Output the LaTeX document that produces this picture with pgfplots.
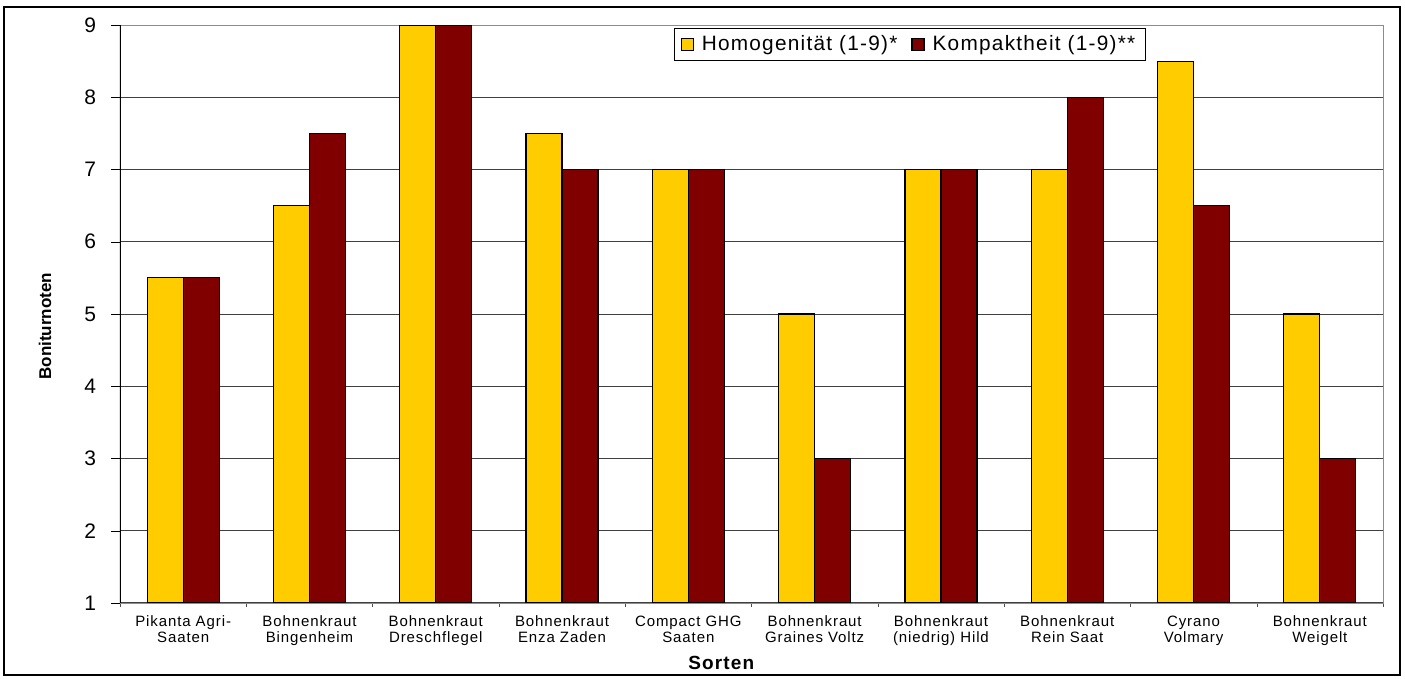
\documentclass[border=0pt]{standalone}
\usepackage{fontspec}
\setmainfont{Liberation Sans}
\newfontfamily\spfont[LetterSpace=6]{Liberation Sans}
\newfontfamily\lgfont[LetterSpace=6]{Liberation Sans}
\usepackage{pgfplots}
\pgfplotsset{compat=1.18}
\definecolor{cyel}{HTML}{FFCC00}
\definecolor{cred}{HTML}{800000}
\begin{document}
\begin{tikzpicture}
\useasboundingbox (-60pt,-38pt) rectangle (642.5pt,301.5pt);
\draw[black, line width=0.8pt] (-58pt,-36pt) rectangle (640pt,298pt);
\begin{axis}[
  at={(0,0)}, anchor=south west,
  scale only axis,
  width=631.5pt, height=289pt,
  ybar=0pt, bar width=18pt,
  xmin=-0.5, xmax=9.5,
  ymin=1, ymax=9,
  ytick={1,...,9},
  xtick={0,...,9},
  xtick pos=bottom, ytick pos=left,
  xticklabels={{Pikanta Agri-\\Saaten},{Bohnenkraut\\Bingenheim},{Bohnenkraut\\Dreschflegel},{Bohnenkraut\\Enza Zaden},{Compact GHG\\Saaten},{Bohnenkraut\\Graines Voltz},{Bohnenkraut\\(niedrig) Hild},{Bohnenkraut\\Rein Saat},{Cyrano\\Volmary},{Bohnenkraut\\Weigelt}},
  minor xtick={-0.5,0.5,...,9.5},
  major x tick style={draw=none},
  minor x tick style={black!70},
  minor tick length=2pt,
  major tick length=4.5pt,
  tick align=outside,
  y tick style={black},
  ymajorgrids,
  grid style={black!75, line width=0.5pt},
  axis line style={black!45},
  xticklabel style={font=\spfont\fontsize{7.5}{7.8}\selectfont, align=center, yshift=1.5pt},
  yticklabel style={font=\fontsize{10.5}{12}\selectfont, xshift=-4pt},
  /pgf/number format/assume math mode=true,
  xlabel={Sorten},
  xlabel style={font=\spfont\bfseries\fontsize{9.5}{11}\selectfont, at={(rel axis cs:0.476,-0.104)}, anchor=center},
  ylabel={Boniturnoten},
  ylabel style={font=\bfseries\fontsize{8.5}{10}\selectfont, at={(rel axis cs:-0.0594,0.479)}, anchor=center, rotate=0},
  legend columns=2,
  legend style={at={(rel axis cs:0.4386,0.995)}, anchor=north west, draw=black, line width=0.6pt,
    font=\lgfont\fontsize{10.4}{12}\selectfont, inner xsep=3pt, inner ysep=1.5pt,
    /tikz/every even column/.append style={column sep=5pt}},
  legend image code/.code={\draw[#1, line width=0.6pt] (0pt,-3pt) rectangle (6pt,3pt);},
  legend cell align=left,
  clip=true,
]
\addplot[fill=cyel, draw=black, line width=0.6pt] coordinates {
(0,5.5) (1,6.5) (2,9) (3,7.5) (4,7) (5,5) (6,7) (7,7) (8,8.5) (9,5)};
\addplot[fill=cred, draw=black, line width=0.6pt] coordinates {
(0,5.5) (1,7.5) (2,9) (3,7) (4,7) (5,3) (6,7) (7,8) (8,6.5) (9,3)};
\legend{\hspace{2pt}Homogenität (1-9)*, \hspace{2pt}Kompaktheit (1-9)**}
\draw[black, line width=0.6pt] (rel axis cs:0,0) -- (rel axis cs:0,1);
\end{axis}
\end{tikzpicture}
\end{document}
